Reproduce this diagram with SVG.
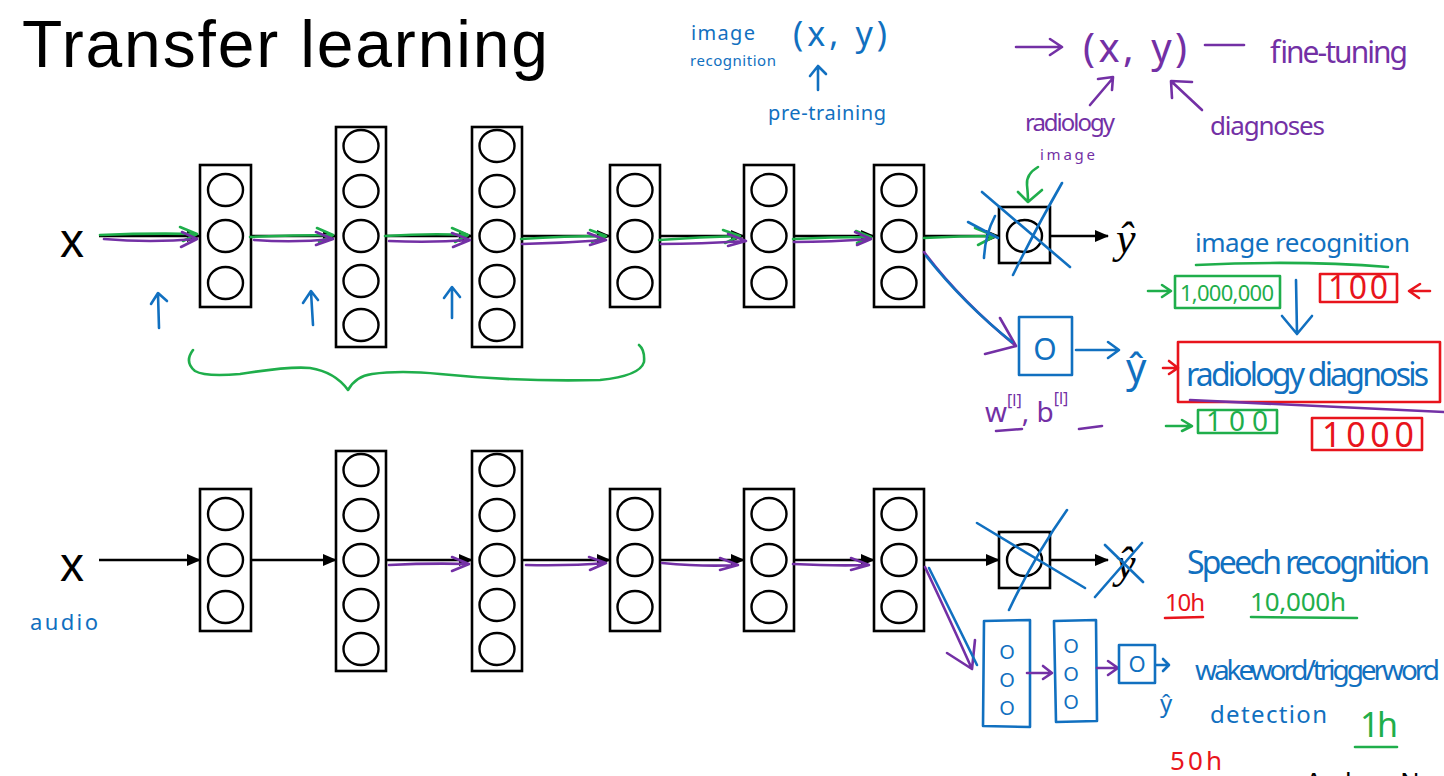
<svg xmlns="http://www.w3.org/2000/svg" width="1444" height="776" viewBox="0 0 1444 776">
<defs>
<style>
.box{fill:#fff;stroke:#000;stroke-width:2.6}
.n{fill:none;stroke:#000;stroke-width:2.4}
.arr{stroke:#000;stroke-width:2.4;fill:none}
.g{fill:none;stroke:#1fae4b;stroke-width:2.6;stroke-linecap:round;stroke-linejoin:round}
.p{fill:none;stroke:#7330a5;stroke-width:2.6;stroke-linecap:round;stroke-linejoin:round}
.b{fill:none;stroke:#1170c0;stroke-width:2.6;stroke-linecap:round;stroke-linejoin:round}
.r{fill:none;stroke:#e8141c;stroke-width:2.6;stroke-linecap:round;stroke-linejoin:round}
.t{font-family:"Liberation Sans",Arial,sans-serif;fill:#000}
.h{font-family:"Noto Sans","DejaVu Sans",sans-serif}
.tb{fill:#1170c0}.tp{fill:#7330a5}.tg{fill:#1fae4b}.tr{fill:#e8141c}
.yh{font-family:"Liberation Serif","Times New Roman",serif;font-style:italic;fill:#000}
</style>
<marker id="ah" markerUnits="userSpaceOnUse" markerWidth="14" markerHeight="14" refX="13" refY="7" orient="auto">
<path d="M0,1 L14,7 L0,13 z" fill="#000"/>
</marker>
</defs>
<rect width="1444" height="776" fill="#fff"/>

<text class="t" x="22" y="67" font-size="66" textLength="526">Transfer learning</text>

<!-- top row -->
<g id="x-top"><text class="t" x="60" y="257" font-size="48">x</text></g>
<g id="t-l1"><rect class="box" x="200" y="165" width="51" height="142"/><ellipse class="n" cx="225.5" cy="190" rx="17.5" ry="16"/><ellipse class="n" cx="225.5" cy="236" rx="17.5" ry="16"/><ellipse class="n" cx="225.5" cy="283" rx="17.5" ry="16"/></g>
<g id="t-l2"><rect class="box" x="336" y="127" width="50" height="220"/><ellipse class="n" cx="361" cy="146" rx="17.5" ry="16"/><ellipse class="n" cx="361" cy="191" rx="17.5" ry="16"/><ellipse class="n" cx="361" cy="236" rx="17.5" ry="16"/><ellipse class="n" cx="361" cy="281" rx="17.5" ry="16"/><ellipse class="n" cx="361" cy="325" rx="17.5" ry="16"/></g>
<g id="t-l3"><rect class="box" x="472" y="127" width="50" height="220"/><ellipse class="n" cx="497" cy="146" rx="17.5" ry="16"/><ellipse class="n" cx="497" cy="191" rx="17.5" ry="16"/><ellipse class="n" cx="497" cy="236" rx="17.5" ry="16"/><ellipse class="n" cx="497" cy="281" rx="17.5" ry="16"/><ellipse class="n" cx="497" cy="325" rx="17.5" ry="16"/></g>
<g id="t-l4"><rect class="box" x="610" y="165" width="50" height="142"/><ellipse class="n" cx="635" cy="190" rx="17.5" ry="16"/><ellipse class="n" cx="635" cy="236" rx="17.5" ry="16"/><ellipse class="n" cx="635" cy="283" rx="17.5" ry="16"/></g>
<g id="t-l5"><rect class="box" x="744" y="165" width="50" height="142"/><ellipse class="n" cx="769" cy="190" rx="17.5" ry="16"/><ellipse class="n" cx="769" cy="236" rx="17.5" ry="16"/><ellipse class="n" cx="769" cy="283" rx="17.5" ry="16"/></g>
<g id="t-l6"><rect class="box" x="874" y="165" width="50" height="142"/><ellipse class="n" cx="899" cy="190" rx="17.5" ry="16"/><ellipse class="n" cx="899" cy="236" rx="17.5" ry="16"/><ellipse class="n" cx="899" cy="283" rx="17.5" ry="16"/></g>
<g id="t-out"><rect class="box" x="999" y="207" width="51" height="56"/><ellipse class="n" cx="1024.5" cy="236" rx="17.5" ry="16"/></g>
<g id="t-yhat"><text class="yh" x="1116" y="253" font-size="44">ŷ</text></g>

<!-- bottom row -->
<g id="x-bot"><text class="t" x="60" y="581" font-size="48">x</text></g>
<g id="b-l1"><rect class="box" x="200" y="489" width="51" height="142"/><ellipse class="n" cx="225.5" cy="514" rx="17.5" ry="16"/><ellipse class="n" cx="225.5" cy="560" rx="17.5" ry="16"/><ellipse class="n" cx="225.5" cy="607" rx="17.5" ry="16"/></g>
<g id="b-l2"><rect class="box" x="336" y="451" width="50" height="220"/><ellipse class="n" cx="361" cy="470" rx="17.5" ry="16"/><ellipse class="n" cx="361" cy="515" rx="17.5" ry="16"/><ellipse class="n" cx="361" cy="560" rx="17.5" ry="16"/><ellipse class="n" cx="361" cy="605" rx="17.5" ry="16"/><ellipse class="n" cx="361" cy="649" rx="17.5" ry="16"/></g>
<g id="b-l3"><rect class="box" x="472" y="451" width="50" height="220"/><ellipse class="n" cx="497" cy="470" rx="17.5" ry="16"/><ellipse class="n" cx="497" cy="515" rx="17.5" ry="16"/><ellipse class="n" cx="497" cy="560" rx="17.5" ry="16"/><ellipse class="n" cx="497" cy="605" rx="17.5" ry="16"/><ellipse class="n" cx="497" cy="649" rx="17.5" ry="16"/></g>
<g id="b-l4"><rect class="box" x="610" y="489" width="50" height="142"/><ellipse class="n" cx="635" cy="514" rx="17.5" ry="16"/><ellipse class="n" cx="635" cy="560" rx="17.5" ry="16"/><ellipse class="n" cx="635" cy="607" rx="17.5" ry="16"/></g>
<g id="b-l5"><rect class="box" x="744" y="489" width="50" height="142"/><ellipse class="n" cx="769" cy="514" rx="17.5" ry="16"/><ellipse class="n" cx="769" cy="560" rx="17.5" ry="16"/><ellipse class="n" cx="769" cy="607" rx="17.5" ry="16"/></g>
<g id="b-l6"><rect class="box" x="874" y="489" width="50" height="142"/><ellipse class="n" cx="899" cy="514" rx="17.5" ry="16"/><ellipse class="n" cx="899" cy="560" rx="17.5" ry="16"/><ellipse class="n" cx="899" cy="607" rx="17.5" ry="16"/></g>
<g id="b-out"><rect class="box" x="999" y="532" width="51" height="56"/><ellipse class="n" cx="1024.5" cy="560" rx="17.5" ry="16"/></g>
<g id="b-yhat"><text class="yh" x="1116" y="578" font-size="44">ŷ</text></g>

<g id="connectors">
<line class="arr" marker-end="url(#ah)" x1="99" y1="236" x2="200" y2="236"/>
<line class="arr" marker-end="url(#ah)" x1="251" y1="236" x2="336" y2="236"/>
<line class="arr" marker-end="url(#ah)" x1="386" y1="236" x2="472" y2="236"/>
<line class="arr" marker-end="url(#ah)" x1="522" y1="236" x2="610" y2="236"/>
<line class="arr" marker-end="url(#ah)" x1="660" y1="236" x2="744" y2="236"/>
<line class="arr" marker-end="url(#ah)" x1="794" y1="236" x2="874" y2="236"/>
<line class="arr" marker-end="url(#ah)" x1="924" y1="236" x2="999" y2="236"/>
<line class="arr" marker-end="url(#ah)" x1="1050" y1="236" x2="1108" y2="236"/>
<line class="arr" marker-end="url(#ah)" x1="99" y1="560" x2="200" y2="560"/>
<line class="arr" marker-end="url(#ah)" x1="251" y1="560" x2="336" y2="560"/>
<line class="arr" marker-end="url(#ah)" x1="386" y1="560" x2="472" y2="560"/>
<line class="arr" marker-end="url(#ah)" x1="522" y1="560" x2="610" y2="560"/>
<line class="arr" marker-end="url(#ah)" x1="660" y1="560" x2="744" y2="560"/>
<line class="arr" marker-end="url(#ah)" x1="794" y1="560" x2="874" y2="560"/>
<line class="arr" marker-end="url(#ah)" x1="924" y1="560" x2="999" y2="560"/>
<line class="arr" marker-end="url(#ah)" x1="1050" y1="560" x2="1108" y2="560"/>
</g>

<!-- green / purple overlay arrows, top row -->
<g id="overlay-top">
<path class="g" d="M100 235 Q150 233 197 234 M180 227 L197 234 L183 241"/>
<path class="p" d="M104 239 Q150 243 197 239 M182 232 L197 239 L181 247"/>
<path class="g" d="M250 237 Q290 235 333 235 M317 228 L333 235 L319 242"/>
<path class="p" d="M254 240 Q295 243 333 239 M316 232 L333 239 L316 245"/>
<path class="g" d="M385 236 Q430 233 468 235 M452 228 L468 235 L455 242"/>
<path class="p" d="M389 241 Q430 243 470 240 M452 233 L470 240 L453 247"/>
<path class="g" d="M521 239 Q565 236 606 236 M590 230 L606 236 L592 242"/>
<path class="p" d="M522 244 Q565 243 606 240 M588 233 L606 240 L590 245"/>
<path class="g" d="M659 240 Q700 237 740 236 M723 230 L740 236 L725 243"/>
<path class="p" d="M661 244 Q700 244 746 241 M728 234 L746 241 L728 246"/>
<path class="g" d="M793 239 Q830 237 871 237 M856 231 L871 237 L857 243"/>
<path class="p" d="M794 242 Q830 242 871 239 M855 232 L871 239 L857 245"/>
<path class="g" d="M924 238 Q960 236 995 236 M975 228 L995 236 L978 245"/>
</g>
<g id="overlay-bot">
<path class="p" d="M389 565 Q430 563 468 564 M452 557 L469 564 L452 571"/>
<path class="p" d="M526 565 Q570 566 606 563 M589 557 L606 563 L590 570"/>
<path class="p" d="M662 563 Q705 567 738 565 M720 558 L738 565 L720 570"/>
<path class="p" d="M793 564 Q835 566 869 565 M851 558 L869 565 L851 570"/>
</g>

<!-- annotations: top -->
<g id="ann-pretrain">
<text class="h tb" x="691" y="40" font-size="20" textLength="64">image</text>
<text class="h tb" x="690" y="66" font-size="15" textLength="86">recognition</text>
<text class="h tb" x="793" y="46" font-size="34" textLength="94">(x, y)</text>
<path class="b" d="M818 90 L818 67 M810 76 L818 66 L826 74"/>
<text class="h tb" x="768" y="120" font-size="20" textLength="118">pre-training</text>
</g>
<g id="ann-finetune">
<path class="p" d="M1016 47 H1060 M1050 39 L1062 47 L1050 55"/>
<text class="h tp" x="1083" y="62" font-size="40" textLength="104">(x, y)</text>
<path class="p" d="M1205 45 H1244"/>
<text class="h tp" x="1268" y="63" font-size="30" textLength="138">fine-tuning</text>
<path class="p" d="M1090 105 L1113 78 M1098 79 L1113 77 L1112 90"/>
<text class="h tp" x="1025" y="131" font-size="24" textLength="90">radiology</text>
<text class="h tp" x="1040" y="160" font-size="15" textLength="55">image</text>
<path class="p" d="M1202 110 L1172 82 M1172 98 L1171 81 L1192 82"/>
<text class="h tp" x="1210" y="135" font-size="26" textLength="115">diagnoses</text>
</g>
<g id="ann-green-arrow">
<path class="g" d="M1038 167 Q1026 174 1027 185 Q1028 195 1028 201 M1018 192 L1028 202 L1042 190"/>
</g>
<g id="ann-cross-top">
<path class="b" d="M982 192 L1070 267 M1062 183 Q1035 230 1013 275 M968 222 L998 238 M995 216 Q985 235 984 258"/>
</g>
<g id="ann-brace">
<path class="g" d="M193 350 Q184 362 195 371 Q205 377 240 374 Q290 366 310 368 Q335 372 348 390 Q356 376 372 374 Q400 370 440 374 Q520 382 600 380 Q640 376 644 362 Q645 350 639 345"/>
</g>
<g id="ann-uparrows">
<path class="b" d="M159 328 L158 294 M151 304 L158 293 L167 301"/>
<path class="b" d="M313 325 L311 292 M303 303 L311 291 L318 300"/>
<path class="b" d="M452 318 L452 288 M444 298 L452 287 L460 297"/>
</g>
<g id="ann-newlayer-top">
<path class="p" d="M924 252 Q960 300 1016 346 M985 354 L1016 346 M1000 318 L1016 346"/>
<path class="b" d="M926 256 Q965 305 1012 342"/>
<rect class="b" x="1019" y="317" width="53" height="58"/>
<text class="h tb" x="1045" y="360" font-size="30" text-anchor="middle">O</text>
<path class="b" d="M1076 350 H1118 M1108 342 L1119 350 L1108 358"/>
<text class="h tb" x="1126" y="382" font-size="40">ŷ</text>
<text class="h tp" x="985" y="422" font-size="28">w<tspan font-size="16" dy="-16">[l]</tspan><tspan dy="16">, b</tspan><tspan font-size="16" dy="-18">[l]</tspan></text>
<path class="p" d="M996 431 L1022 429 M1079 429 L1102 426"/>
</g>
<g id="ann-data-img">
<text class="h tb" x="1195" y="252" font-size="26" textLength="215">image recognition</text>
<path class="g" d="M1196 265 Q1300 260 1388 267"/>
<path class="g" d="M1148 291 H1170 M1162 285 L1171 291 L1162 297"/>
<rect class="g" x="1175" y="276" width="105" height="32"/>
<text class="h tg" x="1180" y="301" font-size="22" textLength="94">1,000,000</text>
<path class="b" d="M1296 280 L1297 333 M1282 316 L1297 334 L1312 316"/>
<rect class="r" x="1320" y="274" width="77" height="28"/>
<text class="h tr" x="1328" y="299" font-size="32" textLength="60">100</text>
<path class="r" d="M1430 291 H1410 M1420 284 L1409 291 L1419 298"/>
<path class="r" d="M1163 368 H1177 M1169 361 L1178 368 L1169 374"/>
<rect class="r" x="1178" y="342" width="262" height="60"/>
<text class="h tb" x="1186" y="386" font-size="32" textLength="243">radiology diagnosis</text>
<path class="p" d="M1190 400 L1444 412"/>
<path class="g" d="M1166 426 H1190 M1182 420 L1192 426 L1182 431"/>
<rect class="g" x="1198" y="410" width="79" height="23"/>
<text class="h tg" x="1206" y="431" font-size="28" textLength="62">100</text>
<rect class="r" x="1312" y="418" width="110" height="32"/>
<text class="h tr" x="1322" y="447" font-size="34" textLength="92">1000</text>
</g>

<!-- annotations: bottom -->
<g id="ann-audio"><text class="h tb" x="30" y="630" font-size="22" textLength="68">audio</text></g>
<g id="ann-cross-bot">
<path class="b" d="M977 523 Q1030 555 1085 588 M1067 510 Q1035 555 1009 610 M1105 545 L1143 582 M1142 543 L1095 597"/>
</g>
<g id="ann-newlayers-bot">
<path class="p" d="M925 567 Q950 620 972 669 M947 653 L972 669 M975 640 L972 669"/>
<path class="b" d="M929 568 Q955 620 977 665"/>
<path class="b" d="M984 621 L1030 620 L1030 727 L983 726 Z"/>
<text class="h tb" x="1007" y="659" font-size="20" text-anchor="middle">O</text>
<text class="h tb" x="1007" y="687" font-size="20" text-anchor="middle">O</text>
<text class="h tb" x="1007" y="715" font-size="20" text-anchor="middle">O</text>
<path class="b" d="M1054 621 L1096 620 L1097 721 L1056 722 Z"/>
<text class="h tb" x="1071" y="653" font-size="20" text-anchor="middle">O</text>
<text class="h tb" x="1071" y="681" font-size="20" text-anchor="middle">O</text>
<text class="h tb" x="1071" y="709" font-size="20" text-anchor="middle">O</text>
<path class="p" d="M1027 673 H1051 M1043 666 L1052 673 L1043 679"/>
<path class="p" d="M1097 668 H1117 M1108 661 L1118 668 L1108 675"/>
<rect class="b" x="1119" y="645" width="36" height="38"/>
<text class="h tb" x="1137" y="672" font-size="22" text-anchor="middle">O</text>
<path class="b" d="M1156 665 H1168 M1163 659 L1169 665 L1163 671"/>
<text class="h tb" x="1160" y="712" font-size="24">ŷ</text>
</g>
<g id="ann-data-speech">
<text class="h tb" x="1187" y="574" font-size="32" textLength="243">Speech recognition</text>
<text class="h tr" x="1165" y="611" font-size="24" textLength="40">10h</text>
<path class="r" d="M1165 618 L1203 617"/>
<text class="h tg" x="1250" y="611" font-size="26" textLength="96">10,000h</text>
<path class="g" d="M1251 617 L1357 618"/>
<text class="h tb" x="1195" y="680" font-size="28" textLength="245">wakeword/triggerword</text>
<text class="h tb" x="1210" y="723" font-size="24" textLength="117">detection</text>
<text class="h tg" x="1360" y="737" font-size="34" textLength="38">1h</text>
<path class="g" d="M1355 747 L1397 747"/>
<text class="h tr" x="1170" y="770" font-size="26" textLength="52">50h</text>
</g>
<text class="t" x="1305" y="791" font-size="26">Andrew Ng</text>
</svg>
